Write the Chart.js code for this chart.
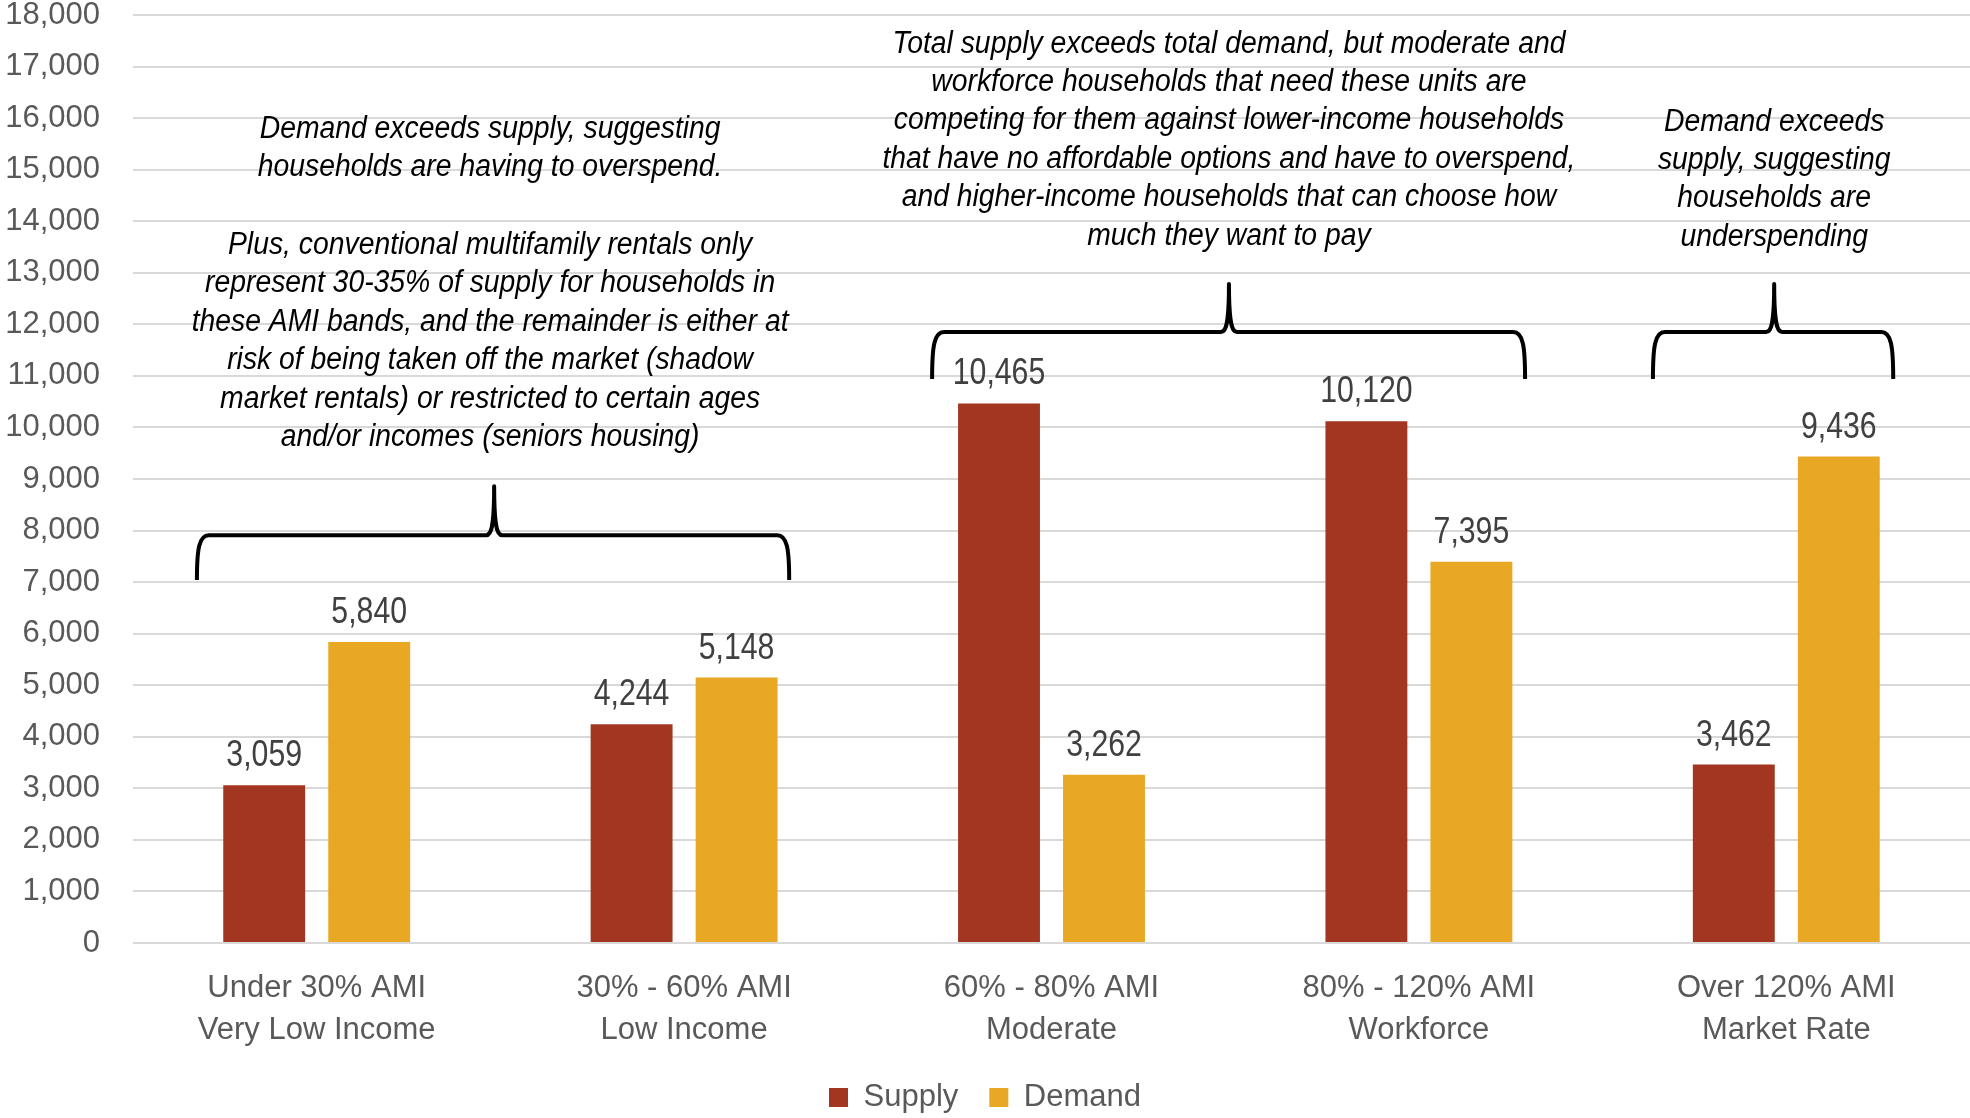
<!DOCTYPE html>
<html><head><meta charset="utf-8">
<script src="https://cdn.jsdelivr.net/npm/chart.js@4.4.0/dist/chart.umd.min.js"></script>
<style>html,body{margin:0;padding:0;background:#fff;overflow:hidden}#wrap{position:relative;width:1970px;height:1118px}</style>
</head><body><div id="wrap"><canvas id="c"></canvas></div>
<script>
// ---- data ----
const categories = [["Under 30% AMI","Very Low Income"],["30% - 60% AMI","Low Income"],["60% - 80% AMI","Moderate"],["80% - 120% AMI","Workforce"],["Over 120% AMI","Market Rate"]];
const seriesNames = ["Supply","Demand"];
const supply = [3059, 4244, 10465, 10120, 3462];
const demand = [5840, 5148, 3262, 7395, 9436];
const yMin = 0, yMax = 18000, yStep = 1000;
const colors = ["#A23621", "#E9A824"];

// annotation texts (x in category index units, y in value units of first line)
const noteTexts = [
  ["Demand exceeds supply, suggesting","households are having to overspend."],
  ["Plus, conventional multifamily rentals only","represent 30-35% of supply for households in","these AMI bands, and the remainder is either at","risk of being taken off the market (shadow","market rentals) or restricted to certain ages","and/or incomes (seniors housing)"],
  ["Total supply exceeds total demand, but moderate and","workforce households that need these units are","competing for them against lower-income households","that have no affordable options and have to overspend,","and higher-income households that can choose how","much they want to pay"],
  ["Demand exceeds","supply, suggesting","households are","underspending"]
];
const noteX = [0.472, 0.472, 2.483, 3.967];
const noteY = [15788, 13533, 17437, 15925];
// brackets: left, right, peak (category units); end, bar, peak (value units)
const bracketX1 = [-0.326, 1.675, 3.637];
const bracketX2 = [1.286, 3.289, 4.291];
const bracketXm = [0.483, 2.483, 3.967];
const bracketYEnd = [7040, 10940, 10940];
const bracketYBar = [7910, 11850, 11850];
const bracketYPeak = [8860, 12780, 12780];

const FONT = '"Liberation Sans", Arial, sans-serif';

const overlay = {
  id: 'overlay',
  afterDatasetsDraw(chart) {
    const ctx = chart.ctx, xs = chart.scales.x, ys = chart.scales.y;
    const catW = xs.getPixelForValue(1) - xs.getPixelForValue(0);
    const xp = v => xs.getPixelForValue(0) + v * catW;
    ctx.save();
    // value labels
    ctx.fillStyle = '#404040';
    ctx.font = '36px ' + FONT;
    ctx.textAlign = 'center';
    ctx.textBaseline = 'alphabetic';
    chart.data.datasets.forEach((ds, di) => {
      const meta = chart.getDatasetMeta(di);
      meta.data.forEach((bar, i) => {
        const t = ds.data[i].toLocaleString('en-US');
        ctx.save();
        ctx.translate(bar.x, bar.y - 19);
        ctx.scale(0.84, 1);
        ctx.fillText(t, 0, 0);
        ctx.restore();
      });
    });
    // notes
    ctx.fillStyle = '#000';
    ctx.font = 'italic 31px ' + FONT;
    ctx.textBaseline = 'middle';
    const ref = "that have no affordable options and have to overspend,";
    const sx = 693 / ctx.measureText(ref).width;
    noteTexts.forEach((lines, k) => {
      const cx = xp(noteX[k]);
      const y0 = ys.getPixelForValue(noteY[k]);
      lines.forEach((ln, j) => {
        ctx.save();
        ctx.translate(cx, y0 + j * 38.4);
        ctx.scale(sx, 1);
        ctx.fillText(ln, 0, 0);
        ctx.restore();
      });
    });
    // brackets
    ctx.strokeStyle = '#000';
    ctx.lineWidth = 4;
    ctx.lineJoin = 'round';
    for (let k = 0; k < bracketX1.length; k++) {
      const x1 = xp(bracketX1[k]), x2 = xp(bracketX2[k]), xm = xp(bracketXm[k]);
      const yE = ys.getPixelForValue(bracketYEnd[k]);
      const yB = ys.getPixelForValue(bracketYBar[k]);
      const yP = ys.getPixelForValue(bracketYPeak[k]);
      ctx.beginPath();
      ctx.moveTo(x1, yE);
      ctx.bezierCurveTo(x1, yB + 14, x1 + 2, yB, x1 + 12, yB);
      ctx.lineTo(xm - 8, yB);
      ctx.bezierCurveTo(xm - 2, yB, xm, yB - 12, xm, yP);
      ctx.bezierCurveTo(xm, yB - 12, xm + 2, yB, xm + 8, yB);
      ctx.lineTo(x2 - 12, yB);
      ctx.bezierCurveTo(x2 - 2, yB, x2, yB + 14, x2, yE);
      ctx.stroke();
    }
    ctx.restore();
  }
};

new Chart(document.getElementById('c'), {
  type: 'bar',
  data: {
    labels: categories,
    datasets: [
      { label: seriesNames[0], data: supply, backgroundColor: colors[0] },
      { label: seriesNames[1], data: demand, backgroundColor: colors[1] }
    ]
  },
  options: {
    responsive: true,
    maintainAspectRatio: false,
    animation: false,
    devicePixelRatio: 1,
    layout: { padding: { left: 0, right: 0, top: 0, bottom: -5 } },
    datasets: { bar: { categoryPercentage: 0.5716, barPercentage: 0.78 } },
    plugins: {
      tooltip: { enabled: false },
      legend: {
        position: 'bottom',
        labels: {
          font: { family: FONT, size: 31 },
          color: '#595959',
          boxWidth: 19, boxHeight: 19,
          padding: 31
        }
      }
    },
    scales: {
      x: {
        grid: { display: false, drawTicks: false },
        border: { display: false },
        ticks: {
          color: '#595959',
          font: { family: FONT, size: 31, lineHeight: 1.355 },
          padding: 24,
          maxRotation: 0, autoSkip: false
        },
        afterFit(s) { s.height = 108; }
      },
      y: {
        min: yMin, max: yMax,
        grid: { color: '#D9D9D9', lineWidth: 2, drawTicks: false },
        border: { display: false },
        ticks: {
          stepSize: yStep,
          color: '#595959',
          font: { family: FONT, size: 31 },
          padding: 33,
          callback: v => v.toLocaleString('en-US')
        },
        afterFit(s) { s.width = 133; s.paddingTop = 15; s.paddingBottom = 0; }
      }
    }
  },
  plugins: [overlay]
});
</script>
</body></html>
